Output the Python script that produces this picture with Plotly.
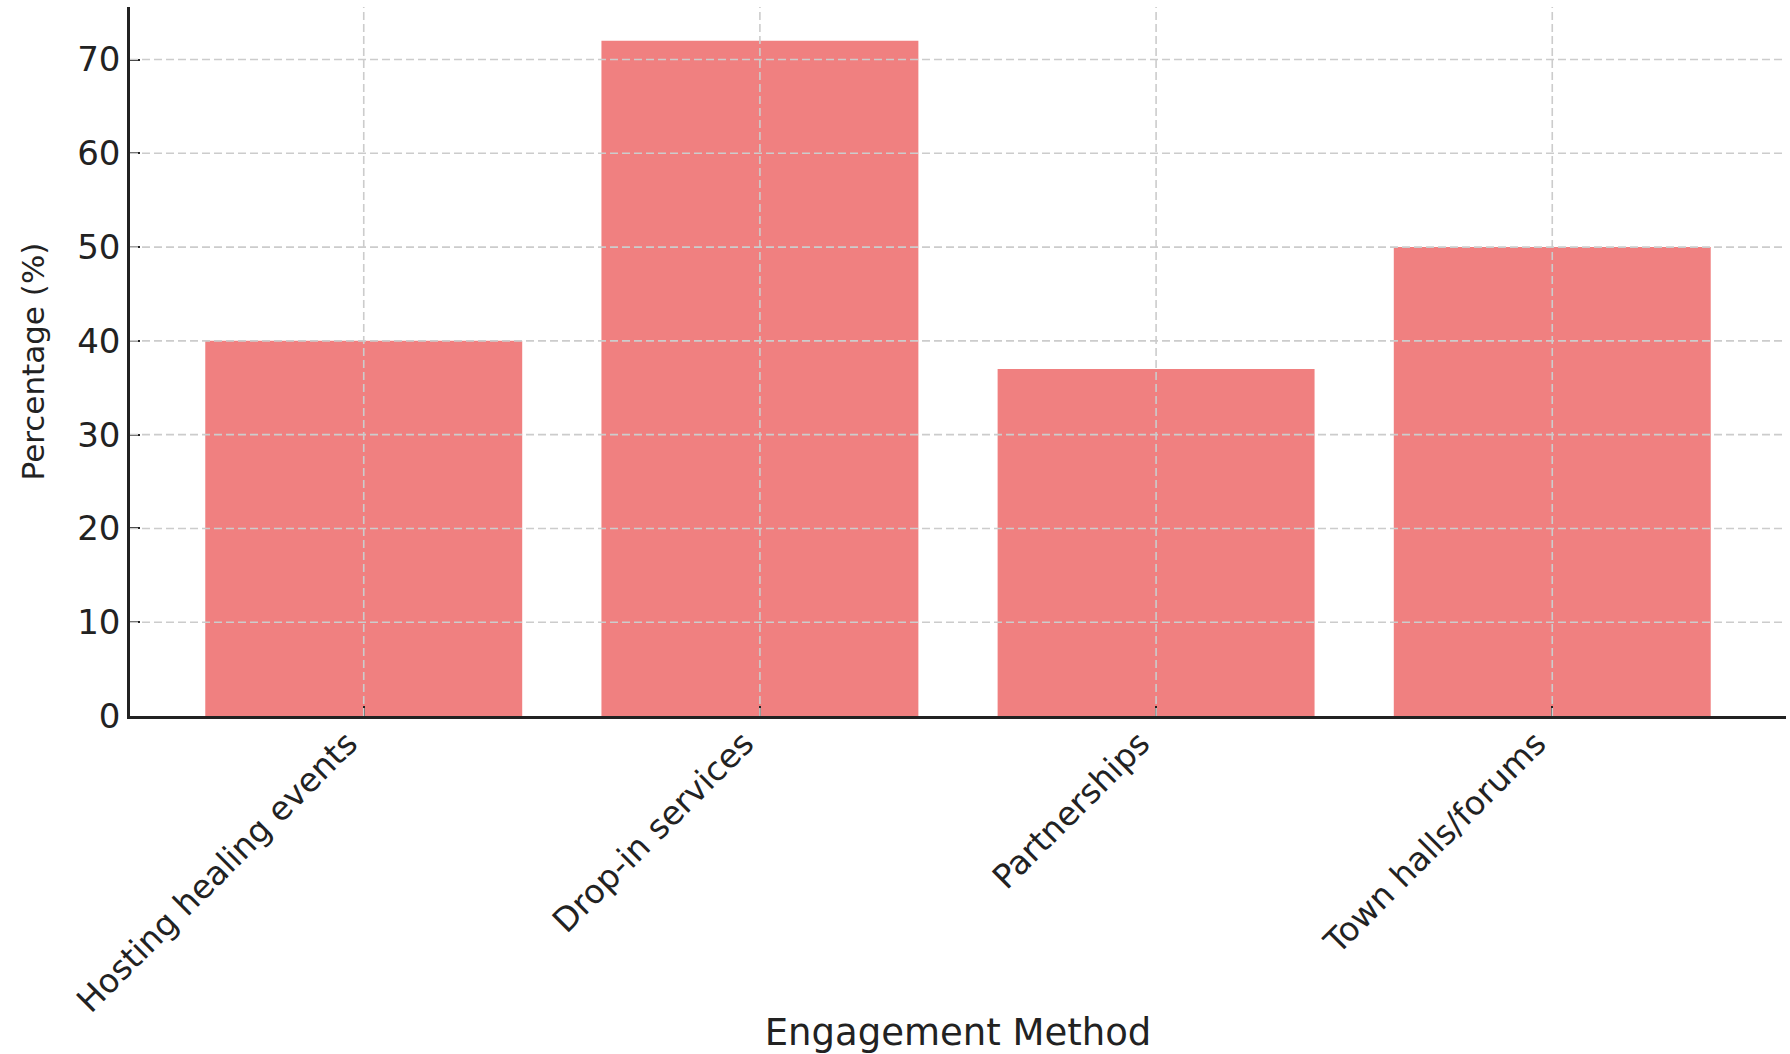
import plotly.graph_objects as go

categories = ["Hosting healing events", "Drop-in services", "Partnerships", "Town halls/forums"]
values = [40, 72, 37, 50]
y_ticks = [0, 10, 20, 30, 40, 50, 60, 70]

FONT = "DejaVu Sans"
TXT = "#222222"
GRID = "#cccccc"

fig = go.Figure()
fig.add_trace(go.Bar(
    x=categories, y=values, width=0.8,
    marker=dict(color="#F08080", line=dict(width=0)),
))

shapes = []
for t in y_ticks[1:]:
    shapes.append(dict(type="line", xref="paper", yref="y", x0=0, x1=1, y0=t, y1=t,
                       line=dict(color=GRID, width=1.6, dash="8px,4px"), layer="above"))
for c in categories:
    shapes.append(dict(type="line", xref="x", yref="paper", x0=c, x1=c, y0=0, y1=1,
                       line=dict(color=GRID, width=1.6, dash="8px,4px"), layer="above"))

fig.update_layout(
    width=1790, height=1054,
    margin=dict(l=130, r=4, t=7, b=338),
    paper_bgcolor="white", plot_bgcolor="white",
    font=dict(family=FONT, size=33, color=TXT),
    showlegend=False,
    shapes=shapes,
    bargap=0.2,
)
fig.update_xaxes(
    range=[-0.59, 3.59], showgrid=False, zeroline=False,
    showline=True, linecolor=TXT, linewidth=2.5,
    ticks="inside", ticklen=10, tickwidth=2, tickcolor=TXT,
    tickangle=-45, tickfont=dict(size=33, color=TXT),
    ticklabelshift=-16, ticklabelstandoff=-8,
    title=dict(text="Engagement Method", font=dict(size=37, color=TXT), standoff=20),
    automargin=False, layer="above traces",
)
fig.update_yaxes(
    range=[0, 75.6], tickvals=y_ticks, showgrid=False, zeroline=False,
    showline=True, linecolor=TXT, linewidth=2.5,
    ticks="inside", ticklen=10, tickwidth=2, tickcolor=TXT,
    tickfont=dict(size=34, color=TXT),
    title=dict(text="Percentage (%)", font=dict(size=31, color=TXT), standoff=24),
    automargin=False, layer="above traces",
)

fig.write_html("out.html")
